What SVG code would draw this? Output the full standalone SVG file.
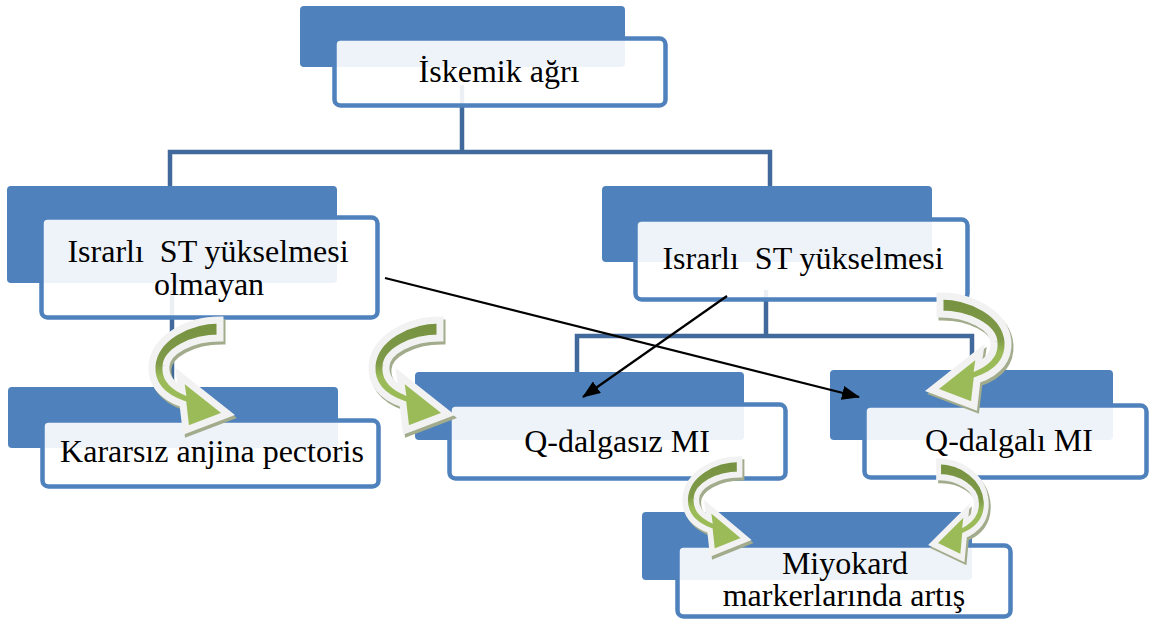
<svg xmlns="http://www.w3.org/2000/svg" xmlns:xlink="http://www.w3.org/1999/xlink" width="1150" height="621" viewBox="0 0 1150 621">
<style>
.back{fill:#4F81BD}
.front{fill:#FFFFFF;fill-opacity:0.9;stroke:#4F81BD;stroke-width:4.5}
.conn{fill:none;stroke:#41699B;stroke-width:4.5}
.lbl{font-family:"Liberation Serif","Times New Roman",serif;font-size:32px;fill:#000;text-anchor:middle;white-space:pre}
.arr{fill:url(#gg);stroke:#F2F2F2;stroke-width:7;stroke-linejoin:miter}
.shd{fill:#A2AC8C;stroke:#A2AC8C;stroke-width:7;stroke-linejoin:miter}
.blk{fill:none;stroke:#000;stroke-width:2.2;marker-end:url(#ah)}
</style>
<defs>
<linearGradient id="gg" x1="0" y1="0" x2="0" y2="1">
<stop offset="0" stop-color="#76913F"/>
<stop offset="0.4" stop-color="#7F9A48"/>
<stop offset="0.52" stop-color="#9BBB59"/>
<stop offset="1" stop-color="#9BBB59"/>
</linearGradient>
<path id="ca" d="M72,6 C40,6 6,24 4,52 C3,68 12,82 35,90 L38,116 L80,100 L32,62 L34,76 C22,70 17,62 18,52 C19,38 42,24 72,24 Z"/>
<marker id="ah" markerUnits="userSpaceOnUse" markerWidth="18" markerHeight="14" refX="17" refY="7" orient="auto">
<path d="M0,0 L18,7 L0,14 Z" fill="#000"/>
</marker>
</defs>
<g id="connectors">
<path class="conn" d="M462,85 V152 M170,186 V152 H770 V186"/>
<path class="conn" d="M172,290 V387"/>
<path class="conn" d="M766,290 V336 M577,372 V336 H972 V370"/>
</g>
<g id="n-top">
<rect class="back" x="300" y="6" width="325" height="61" rx="4"/>
<rect class="front" x="334.5" y="38.5" width="331" height="67" rx="6"/>
<text class="lbl" x="499" y="82">İskemik ağrı</text>
</g>
<g id="n-left">
<rect class="back" x="7" y="186" width="330" height="97" rx="4"/>
<rect class="front" x="41.5" y="217.5" width="336" height="100" rx="6"/>
<text class="lbl" x="208" y="262">Israrlı  ST yükselmesi</text>
<text class="lbl" x="209" y="295">olmayan</text>
</g>
<g id="n-right">
<rect class="back" x="602" y="186" width="330" height="76" rx="4"/>
<rect class="front" x="635.5" y="219.5" width="332" height="80" rx="6"/>
<text class="lbl" x="803" y="269">Israrlı  ST yükselmesi</text>
</g>
<g id="n-kararsiz">
<rect class="back" x="8" y="387" width="330" height="61" rx="4"/>
<rect class="front" x="42.5" y="420.5" width="336" height="66" rx="6"/>
<text class="lbl" x="212" y="462">Kararsız anjina pectoris</text>
</g>
<g id="n-qdalgasiz">
<rect class="back" x="415" y="372" width="329" height="68" rx="4"/>
<rect class="front" x="449.5" y="404.5" width="336" height="74" rx="6"/>
<text class="lbl" x="617" y="452">Q-dalgasız MI</text>
</g>
<g id="n-qdalgali">
<rect class="back" x="830" y="370" width="283" height="70" rx="4"/>
<rect class="front" x="864.5" y="405.5" width="282" height="72" rx="6"/>
<text class="lbl" x="1009" y="451">Q-dalgalı MI</text>
</g>
<g id="n-miyokard">
<rect class="back" x="642" y="512" width="330" height="68" rx="4"/>
<rect class="front" x="677.5" y="545.5" width="333" height="71" rx="6"/>
<text class="lbl" x="845" y="574">Miyokard</text>
<text class="lbl" x="844" y="606">markerlarında artış</text>
</g>
<g id="curved-arrows">
<use xlink:href="#ca" class="shd" transform="translate(150,317)"/>
<use xlink:href="#ca" class="arr" transform="translate(148,314)"/>
<use xlink:href="#ca" class="shd" transform="translate(370,317)"/>
<use xlink:href="#ca" class="arr" transform="translate(368,314)"/>
<use xlink:href="#ca" class="shd" transform="translate(1014,293) scale(-1,1)"/>
<use xlink:href="#ca" class="arr" transform="translate(1012,290) scale(-1,1)"/>
<use xlink:href="#ca" class="shd" transform="translate(684,457) scale(0.8,0.85)"/>
<use xlink:href="#ca" class="arr" transform="translate(682,454) scale(0.8,0.85)"/>
<use xlink:href="#ca" class="shd" transform="translate(991,459) scale(-0.7,0.88)"/>
<use xlink:href="#ca" class="arr" transform="translate(989,456) scale(-0.7,0.88)"/>
</g>
<g id="black-arrows">
<line class="blk" x1="385" y1="278" x2="859" y2="397"/>
<line class="blk" x1="727" y1="296" x2="583" y2="397"/>
</g>
</svg>
